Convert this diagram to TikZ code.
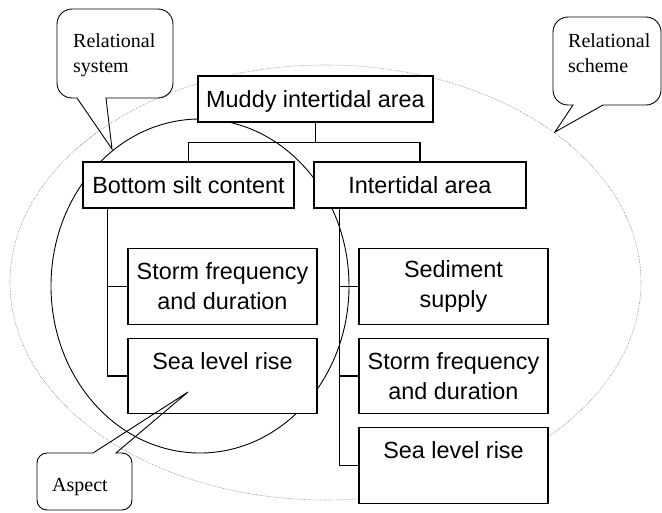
\documentclass[tikz,border=0pt]{standalone}
\usepackage{fontspec}
\setmainfont{Liberation Sans}
\newfontfamily\calloutfont{Liberation Serif}
\begin{document}
\begin{tikzpicture}[x=1pt,y=-1pt,
  box/.style={draw, line width=1.3pt, fill=white, inner sep=0pt,
    font={\fontsize{23.4}{30}\selectfont}, align=center},
  one/.style={box, minimum height=46pt, text depth=0pt},
  two/.style={box, minimum width=189pt, minimum height=75.5pt},
  link/.style={line width=1.3pt},
  callout/.style={line width=0.9pt, line join=miter},
  ctext/.style={font={\calloutfont\fontsize{20}{25}\selectfont}, inner sep=0pt, align=left},
  scheme/.style={densely dotted, gray, line width=0.6pt},
  system/.style={line width=0.9pt},
]
\useasboundingbox (0,0) rectangle (662,512);

% relational scheme (dotted ellipse) and relational system (ellipse)
\draw[scheme] (325.5,282.5) ellipse [x radius=315.5, y radius=217.5];
\draw[system] (200,286) ellipse [x radius=149, y radius=167];

% boxes
\node[one, minimum width=235pt] (muddy) at (315.5,99) {Muddy intertidal area};
\node[one, minimum width=211pt] (bsc) at (188.5,185) {Bottom silt content};
\node[one, minimum width=212pt] (ita) at (420,185) {Intertidal area};

\node[two] (lstorm) at (222.5,286.5) {Storm frequency\\and duration};
\node[two] (lsea) at (222.5,376) {Sea level rise\\\mbox{}};

\node[two] (rsed) at (453.5,286.5) {Sediment\\supply};
\node[two] (rstorm) at (453.5,376) {Storm frequency\\and duration};
\node[two] (rsea) at (453.5,465.5) {Sea level rise\\\mbox{}};

% tree connectors
\draw[link] (muddy.south) -- ++(0,20) -| (bsc.north);
\draw[link] (muddy.south) -- ++(0,20) -| (ita.north);
\draw[link] ([xshift=25pt]bsc.south west) |- (lstorm.west);
\draw[link] ([xshift=25pt]bsc.south west) |- (lsea.west);
\draw[link] ([xshift=26pt]ita.south west) |- (rsed.west);
\draw[link] ([xshift=26pt]ita.south west) |- (rstorm.west);
\draw[link] ([xshift=26pt]ita.south west) |- (rsea.west);

% callout: Relational system
\coordinate (systip) at (112,149);
\draw[callout] (77,98) -- (72,98) arc[start angle=90, end angle=180, radius=15]
  -- (57,24) arc[start angle=180, end angle=270, radius=15]
  -- (158,9) arc[start angle=270, end angle=360, radius=15]
  -- (173,83) arc[start angle=0, end angle=90, radius=15]
  -- (106,98) -- (systip) -- cycle;
\node[ctext, anchor=north west] (systxt) at (73,33) {Relational\\system};

% callout: Relational scheme
\coordinate (schtip) at (555,132);
\draw[callout] (573,105) -- (568,105) arc[start angle=90, end angle=180, radius=15]
  -- (553,32) arc[start angle=180, end angle=270, radius=15]
  -- (646,17) arc[start angle=270, end angle=360, radius=15]
  -- (661,90) arc[start angle=0, end angle=90, radius=15]
  -- (603,105) -- (schtip) -- cycle;
\node[ctext, anchor=north west] (schtxt) at (568,33) {Relational\\scheme};

% callout: Aspect
\coordinate (asptip) at (188,392);
\draw[callout] (116,453) -- (122,453) arc[start angle=270, end angle=360, radius=10]
  -- (132,500) arc[start angle=0, end angle=90, radius=10]
  -- (47,510) arc[start angle=90, end angle=180, radius=10]
  -- (37,463) arc[start angle=180, end angle=270, radius=10]
  -- (93,453) -- (asptip) -- cycle;
\node[ctext, anchor=base west] (asptxt) at (52,491) {Aspect};
\end{tikzpicture}
\end{document}
